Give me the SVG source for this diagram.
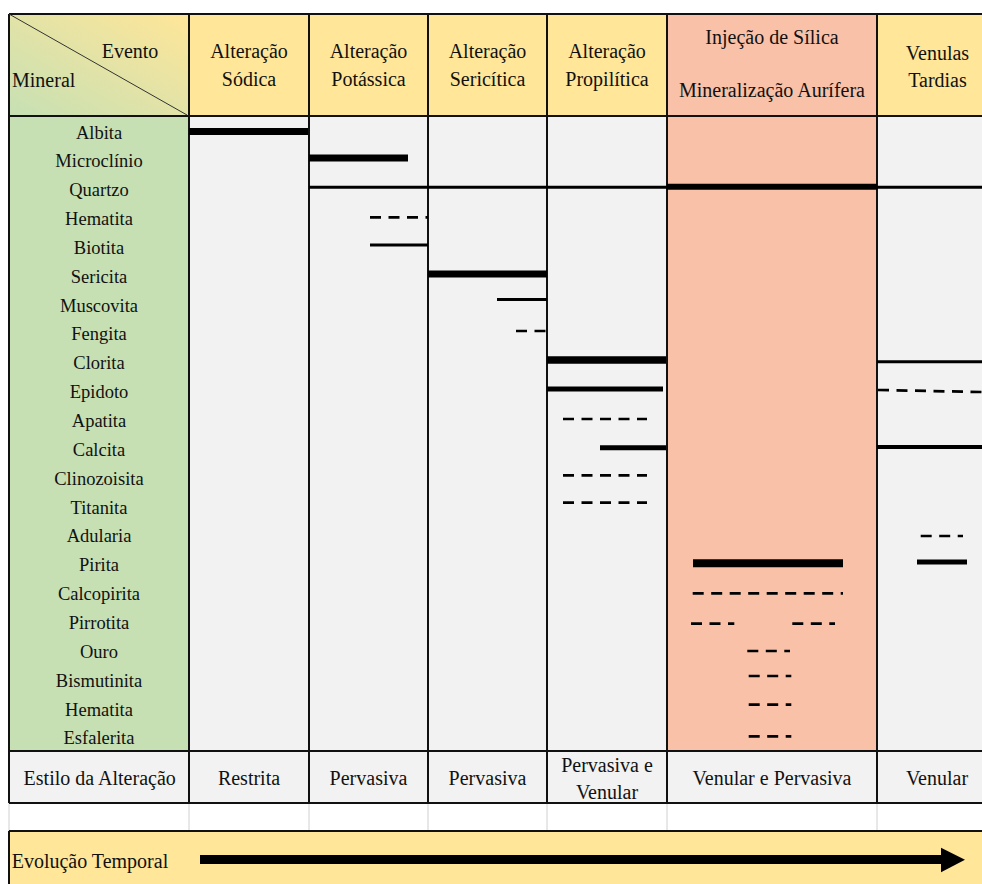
<svg xmlns="http://www.w3.org/2000/svg" width="982" height="884" viewBox="0 0 982 884" font-family="Liberation Serif, Tinos, DejaVu Serif, serif">
<defs>
<linearGradient id="corner" x1="0" y1="1" x2="1" y2="0">
<stop offset="0" stop-color="#C6E0B4"/>
<stop offset="1" stop-color="#FFE699"/>
</linearGradient>
</defs>
<style>
text{font-family:Liberation Serif, Tinos, DejaVu Serif, serif;fill:#111;}
.h{font-size:20px;text-anchor:middle;}
.m{font-size:18.5px;text-anchor:middle;}
.grid{stroke:#111;stroke-width:2;fill:none;}
.thin{stroke:#D0D0D0;stroke-width:1;}
.bar{stroke:#000;fill:none;stroke-linecap:butt;}
.dash{stroke:#000;fill:none;stroke-width:2.7;stroke-dasharray:11 7.5;}
</style>
<rect x="0" y="0" width="982" height="884" fill="#fff"/>

<g id="backgrounds">
<rect x="9" y="14" width="180" height="102" fill="url(#corner)"/>
<rect x="189" y="14" width="478" height="102" fill="#FFE699"/>
<rect x="667" y="14" width="210" height="102" fill="#F9C1A8"/>
<rect x="877" y="14" width="105" height="102" fill="#FFE699"/>
<rect x="9" y="116" width="180" height="635" fill="#C6E0B4"/>
<rect x="189" y="116" width="478" height="635" fill="#F2F2F2"/>
<rect x="667" y="116" width="210" height="635" fill="#F9C1A8"/>
<rect x="877" y="116" width="105" height="635" fill="#F2F2F2"/>
<rect x="9" y="751" width="973" height="52" fill="#F2F2F2"/>
<rect x="9" y="803" width="973" height="28" fill="#FFFFFF"/>
<rect x="9" y="831" width="973" height="53" fill="#FFE699"/>
</g>

<g id="grid">
<line class="thin" x1="9" y1="803" x2="9" y2="831"/>
<line class="thin" x1="189" y1="803" x2="189" y2="831"/>
<line class="thin" x1="309" y1="803" x2="309" y2="831"/>
<line class="thin" x1="428" y1="803" x2="428" y2="831"/>
<line class="thin" x1="547" y1="803" x2="547" y2="831"/>
<line class="thin" x1="667" y1="803" x2="667" y2="831"/>
<line class="thin" x1="877" y1="803" x2="877" y2="831"/>
<line class="grid" x1="9" y1="14" x2="982" y2="14"/>
<line class="grid" x1="9" y1="116" x2="982" y2="116" stroke-width="2.5"/>
<line class="grid" x1="9" y1="751" x2="982" y2="751" stroke-width="2.5"/>
<line class="grid" x1="9" y1="803" x2="982" y2="803" stroke-width="2.5"/>
<line class="grid" x1="9" y1="831" x2="982" y2="831"/>
<line class="grid" x1="9" y1="14" x2="9" y2="803"/>
<line class="grid" x1="9" y1="831" x2="9" y2="884"/>
<line class="grid" x1="189" y1="14" x2="189" y2="803"/>
<line class="grid" x1="309" y1="14" x2="309" y2="803"/>
<line class="grid" x1="428" y1="14" x2="428" y2="803"/>
<line class="grid" x1="547" y1="14" x2="547" y2="803"/>
<line class="grid" x1="667" y1="14" x2="667" y2="803"/>
<line class="grid" x1="877" y1="14" x2="877" y2="803"/>
<line x1="9" y1="14" x2="187" y2="115" stroke="#333" stroke-width="1"/>
</g>

<g id="header">
<text class="h" x="130" y="58">Evento</text>
<text x="12" y="87" style="font-size:20px">Mineral</text>
<g id="h-sodica"><text class="h" x="249" y="58">Alteração</text><text class="h" x="249" y="86">Sódica</text></g>
<g id="h-potassica"><text class="h" x="368.5" y="58">Alteração</text><text class="h" x="368.5" y="86">Potássica</text></g>
<g id="h-sericitica"><text class="h" x="487.5" y="58">Alteração</text><text class="h" x="487.5" y="86">Sericítica</text></g>
<g id="h-propilitica"><text class="h" x="607" y="58">Alteração</text><text class="h" x="607" y="86">Propilítica</text></g>
<g id="h-injecao"><text class="h" x="772" y="44">Injeção de Sílica</text><text class="h" x="772" y="97">Mineralização Aurífera</text></g>
<g id="h-venulas"><text class="h" x="937.5" y="60">Venulas</text><text class="h" x="937.5" y="87">Tardias</text></g>
</g>

<g id="minerals">
<text class="m" x="99" y="138.5">Albita</text>
<text class="m" x="99" y="167.35">Microclínio</text>
<text class="m" x="99" y="196.2">Quartzo</text>
<text class="m" x="99" y="225.05">Hematita</text>
<text class="m" x="99" y="253.9">Biotita</text>
<text class="m" x="99" y="282.75">Sericita</text>
<text class="m" x="99" y="311.6">Muscovita</text>
<text class="m" x="99" y="340.45">Fengita</text>
<text class="m" x="99" y="369.3">Clorita</text>
<text class="m" x="99" y="398.15">Epidoto</text>
<text class="m" x="99" y="427">Apatita</text>
<text class="m" x="99" y="455.85">Calcita</text>
<text class="m" x="99" y="484.7">Clinozoisita</text>
<text class="m" x="99" y="513.55">Titanita</text>
<text class="m" x="99" y="542.4">Adularia</text>
<text class="m" x="99" y="571.25">Pirita</text>
<text class="m" x="99" y="600.1">Calcopirita</text>
<text class="m" x="99" y="628.95">Pirrotita</text>
<text class="m" x="99" y="657.8">Ouro</text>
<text class="m" x="99" y="686.65">Bismutinita</text>
<text class="m" x="99" y="715.5">Hematita</text>
<text class="m" x="99" y="744.35">Esfalerita</text>
</g>

<g id="connectors">
<line class="bar" x1="189" y1="131.5" x2="308" y2="131.5" stroke-width="7"/>
<line class="bar" x1="309" y1="158" x2="408" y2="158" stroke-width="7"/>
<line class="bar" x1="309" y1="187.3" x2="667" y2="187.3" stroke-width="3"/>
<line class="bar" x1="667" y1="186.8" x2="877" y2="186.8" stroke-width="6"/>
<line class="bar" x1="877" y1="187.3" x2="982" y2="187.3" stroke-width="3"/>
<line class="dash" x1="370" y1="217.3" x2="428" y2="217.3"/>
<line class="bar" x1="370" y1="245" x2="428" y2="245" stroke-width="3"/>
<line class="bar" x1="428" y1="274" x2="547" y2="274" stroke-width="7"/>
<line class="bar" x1="497" y1="299.5" x2="547" y2="299.5" stroke-width="3"/>
<line class="dash" x1="516" y1="331" x2="547" y2="331"/>
<line class="bar" x1="547" y1="360" x2="666" y2="360" stroke-width="7.5"/>
<line class="bar" x1="877" y1="361.7" x2="982" y2="361.7" stroke-width="3"/>
<line class="bar" x1="547" y1="389" x2="663" y2="389" stroke-width="5"/>
<line class="dash" x1="878" y1="390" x2="982" y2="392"/>
<line class="dash" x1="563" y1="419" x2="647" y2="419"/>
<line class="bar" x1="600" y1="447.7" x2="666" y2="447.7" stroke-width="5"/>
<line class="bar" x1="877" y1="447" x2="982" y2="447" stroke-width="4"/>
<line class="dash" x1="563" y1="475.3" x2="647" y2="475.3"/>
<line class="dash" x1="563" y1="502.7" x2="647" y2="502.7"/>
<line class="dash" x1="920.7" y1="536" x2="963" y2="536"/>
<line class="bar" x1="693" y1="563.3" x2="843" y2="563.3" stroke-width="8"/>
<line class="bar" x1="917" y1="562" x2="967" y2="562" stroke-width="5"/>
<line class="dash" x1="692.7" y1="593.3" x2="843" y2="593.3"/>
<line class="dash" x1="691" y1="623.7" x2="734.3" y2="623.7"/>
<line class="dash" x1="792.3" y1="623.7" x2="835" y2="623.7"/>
<line class="dash" x1="747.3" y1="651" x2="790" y2="651"/>
<line class="dash" x1="748.7" y1="676" x2="791.3" y2="676"/>
<line class="dash" x1="748.7" y1="704.7" x2="791.3" y2="704.7"/>
<line class="dash" x1="748.7" y1="736.3" x2="791.3" y2="736.3"/>
</g>

<g id="estilo">
<text class="h" x="99.7" y="785">Estilo da Alteração</text>
<text class="h" x="249" y="785">Restrita</text>
<text class="h" x="368.5" y="785">Pervasiva</text>
<text class="h" x="487.5" y="785">Pervasiva</text>
<text class="h" x="607" y="771.7">Pervasiva e</text>
<text class="h" x="607" y="799.3">Venular</text>
<text class="h" x="772" y="785">Venular e Pervasiva</text>
<text class="h" x="937" y="785">Venular</text>
</g>

<g id="evolucao">
<text x="11.7" y="868" style="font-size:20px">Evolução Temporal</text>
<line x1="200" y1="859.5" x2="944" y2="859.5" stroke="#000" stroke-width="9"/>
<polygon points="941,847.7 965,859.8 941,872.3" fill="#000"/>
</g>
</svg>
